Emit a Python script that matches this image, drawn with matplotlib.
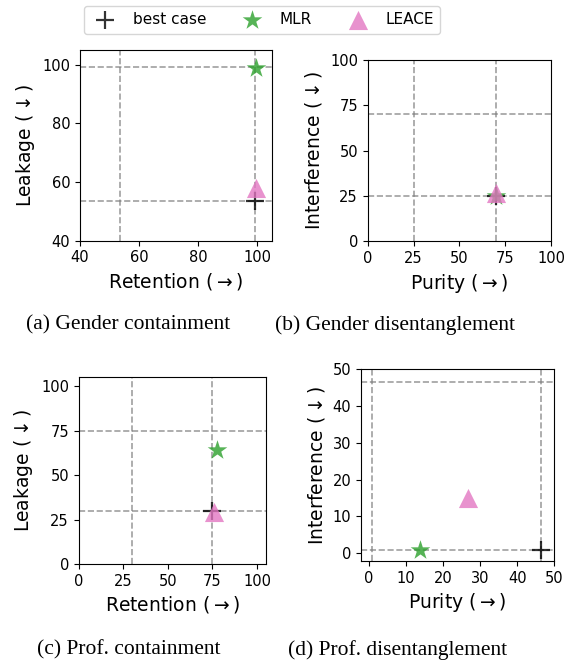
import matplotlib
matplotlib.use("Agg")
import matplotlib.pyplot as plt

# best case / MLR / LEACE for each panel: (x, y)
best_case = [(99.3, 53.5), (70.0, 25.1), (75.0, 30.0), (46.5, 0.9)]
mlr = [(99.5, 98.7), (70.0, 25.0), (77.6, 63.9), (13.6, 0.9)]
leace = [(99.5, 58.0), (70.0, 26.5), (76.0, 29.0), (26.6, 14.9)]

# reference lines (drawn both vertically and horizontally)
ref_lines = [[53.5, 99.3], [25.1, 70.0], [30.0, 75.0], [0.9, 46.5]]

xlabels = [r"Retention ($\rightarrow$)", r"Purity ($\rightarrow$)",
           r"Retention ($\rightarrow$)", r"Purity ($\rightarrow$)"]
ylabels = [r"Leakage ($\downarrow$)", r"Interference ($\downarrow$)",
           r"Leakage ($\downarrow$)", r"Interference ($\downarrow$)"]
captions = ["(a) Gender containment", "(b) Gender disentanglement",
            "(c) Prof. containment", "(d) Prof. disentanglement"]

limits = [((40, 105), (40, 105)), ((0, 100), (0, 100)),
          ((0, 105), (0, 105)), ((-2.2, 50), (-2.1, 50))]
ticks = [[40, 60, 80, 100], [0, 25, 50, 75, 100],
         [0, 25, 50, 75, 100], [0, 10, 20, 30, 40, 50]]

positions = [[0.1394, 0.6402, 0.3345, 0.2851],
             [0.6406, 0.6393, 0.3193, 0.2710],
             [0.1371, 0.1570, 0.3263, 0.2790],
             [0.6289, 0.1614, 0.3368, 0.2870]]
caption_pos = [(128 / 574, 1 - 325 / 669), (395 / 574, 1 - 325 / 669),
               (128.5 / 574, 1 - 650 / 669), (398 / 574, 1 - 650 / 669)]

fig = plt.figure(figsize=(5.74, 6.69), dpi=100)

for i in range(4):
    ax = fig.add_axes(positions[i])
    for v in ref_lines[i]:
        ax.axvline(v, color="gray", ls="--", lw=1.2, alpha=0.75, zorder=1)
        ax.axhline(v, color="gray", ls="--", lw=1.2, alpha=0.75, zorder=1)
    ax.scatter(*best_case[i], marker="+", s=170, color="black", alpha=0.8,
               linewidths=1.6, zorder=3, label="best case")
    ax.scatter(*mlr[i], marker="*", s=220, color="tab:green", alpha=0.8,
               linewidths=0, zorder=4, label="MLR")
    ax.scatter(*leace[i], marker="^", s=190, color="tab:pink", alpha=0.8,
               linewidths=0, zorder=5, label="LEACE")
    ax.set_xlim(limits[i][0])
    ax.set_ylim(limits[i][1])
    ax.set_xticks(ticks[i])
    ax.set_yticks(ticks[i])
    ax.tick_params(labelsize=10.5)
    ax.set_xlabel(xlabels[i], fontsize=13.5)
    ax.set_ylabel(ylabels[i], fontsize=13.5)
    fig.text(caption_pos[i][0], caption_pos[i][1], captions[i],
             family="Liberation Serif", fontsize=15.5, ha="center", va="center")
    if i == 0:
        handles, labels = ax.get_legend_handles_labels()

fig.legend(handles, labels, loc="center", bbox_to_anchor=(262 / 574, 1 - 20 / 669),
           ncol=3, fontsize=11, frameon=True)

fig.savefig("out.png", dpi=100)
